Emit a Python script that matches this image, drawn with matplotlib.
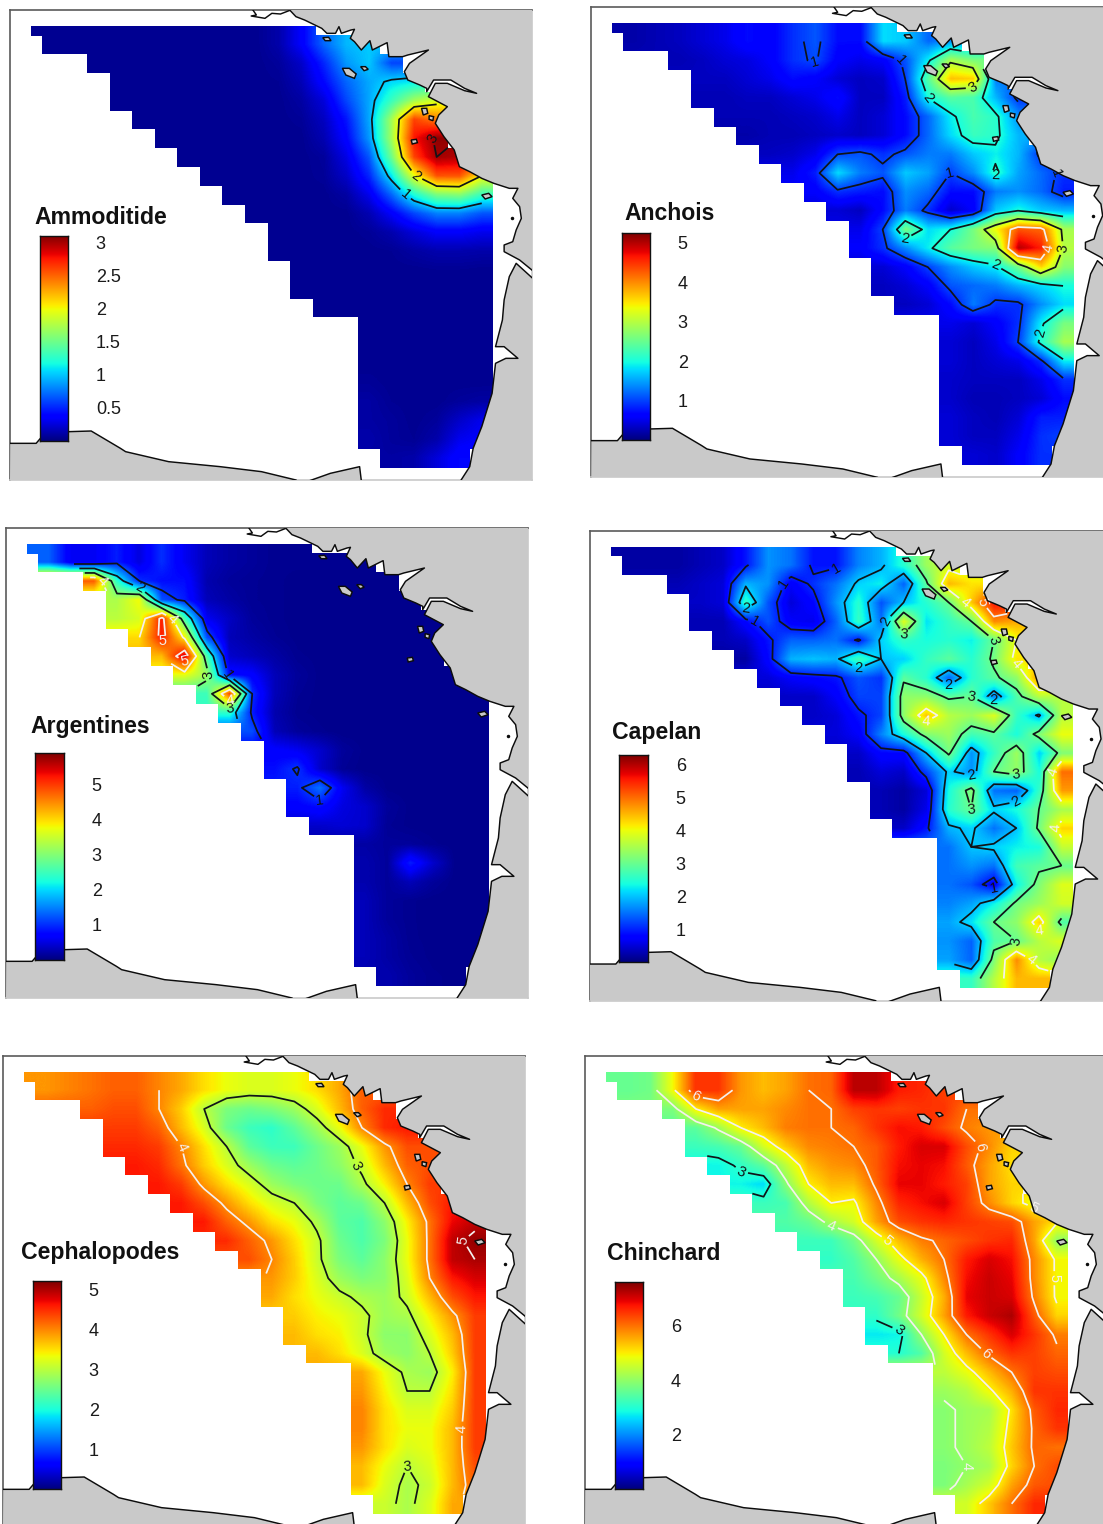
import numpy as np
import matplotlib
matplotlib.use("Agg")
import matplotlib.pyplot as plt
from matplotlib.path import Path
from matplotlib.patches import PathPatch, Polygon

plt.rcParams['font.family'] = ['Liberation Sans', 'DejaVu Sans']

# ---- data: one list per grid row, from the first wet column of that row ----
AMMODITIDE = [
 [.05]*10+[.12,.35,.7,.95,1.0],
 [.05]*8+[.08,.2,.5,.85,1.0,.6],
 [.05]*7+[.06,.15,.4,.7,.9,1.05,1.1],
 [.05]*7+[.05,.1,.25,.6,.9,1.3,1.7,1.9],
 [.05]*7+[.07,.18,.45,.9,1.7,2.6,2.4],
 [.05]*6+[.05,.14,.38,.85,1.7,2.75,3.05],
 [.05]*6+[.08,.28,.65,1.5,2.6,3.0,2.95],
 [.05]*5+[.07,.2,.5,1.1,1.95,2.55,2.55,2.0],
 [.05]*5+[.1,.3,.7,1.2,1.55,1.6,1.3],
 [.05]*5+[.14,.35,.6,.78,.78,.65],
 [.05]*4+[.07,.13,.25,.35,.35,.3],
 [.05]*5+[.06,.1,.13,.13,.12],
 [.05]*6+[.06,.06,.05],
 [.05]*9,
 [.05]*8,
 [.05]*6,
 [.05]*6,
 [.05]*6,
 [.07,.05,.05,.05,.05,.05],
 [.1,.06,.05,.05,.08,.1],
 [.1,.08,.05,.08,.2,.3],
 [.12,.08,.06,.12,.3,.35],
 [.1,.12,.25,.4],
]
ANCHOIS = [
 [.2,.25,.3,.4,.5,.7,.6,.9,1.1,.7,.7,1.8,1.7,1.2,1.4],
 [.25,.3,.4,.45,.6,.9,1.05,.6,.5,.6,1.1,1.9,2.9,2.6],
 [.3,.3,.4,.5,.7,.6,.4,.3,.35,1.0,2.4,3.7,3.6,1.3],
 [.25,.25,.3,.3,.4,.5,.7,.3,.3,.8,2.0,2.4,2.3,1.6,.9],
 [.25,.25,.25,.3,.35,.5,.3,.4,.7,1.2,1.9,2.3,2.1,1.4],
 [.2,.25,.25,.3,.35,.3,.4,.7,1.2,1.8,2.2,2.1,1.6],
 [.3,.35,.5,1.0,1.1,.9,1.1,1.3,1.3,1.7,1.9,1.6,.9],
 [.5,.8,1.8,1.3,1.1,1.7,1.5,1.0,1.4,2.1,1.5,1.2,.9],
 [.6,.9,.8,.7,1.4,1.2,.7,.7,1.3,1.4,1.2,.8],
 [.4,.3,.7,1.3,.9,.35,.6,1.7,2.0,1.7,1.6],
 [.5,1.0,2.6,1.8,2.0,2.6,3.4,4.3,4.2,2.9],
 [.6,.9,1.4,1.9,2.4,2.6,2.7,5.0,4.6,3.0],
 [.4,.6,1.0,1.4,1.7,1.9,2.6,3.6,2.7],
 [.3,.4,.6,1.1,1.2,1.3,1.6,1.8,2.0],
 [.3,.4,.7,1.3,.9,.9,1.4,1.8],
 [.5,.4,.6,.9,1.9,2.6],
 [.4,.3,.5,1.0,2.1,2.9],
 [.4,.3,.4,.5,.9,1.9],
 [.35,.3,.3,.3,.5,.9],
 [.35,.25,.25,.3,.4,.7],
 [.4,.3,.25,.4,.8,.8],
 [.4,.3,.3,.5,.9,1.0],
 [.4,.35,.6,.9],
]
ARGENTINES = [
 [1.3,.6,.6,.9,.5,1.0,.6,.3,.2,.15,.1,.1,.1,.1,.1],
 [4.8,2.4,1.0,.8,.8,.25,.15,.12,.1,.08,.08,.08,.08,.08],
 [3.3,3.8,1.2,.9,.3,.2,.12,.1,.08,.08,.07,.07,.07,.07],
 [3.4,3.6,5.2,2.6,.6,.35,.15,.1,.08,.07,.07,.07,.07,.07,.07],
 [4.0,5.2,3.9,1.2,.3,.2,.12,.08,.07,.07,.07,.07,.07,.07],
 [4.2,5.5,2.6,.4,.3,.2,.1,.08,.07,.07,.07,.07,.07],
 [3.7,3.2,.8,.7,.3,.15,.08,.07,.07,.07,.07,.07,.07],
 [2.5,4.9,1.0,.3,.12,.08,.07,.07,.07,.07,.07,.07,.07],
 [2.4,.9,.25,.1,.08,.07,.07,.07,.07,.07,.07,.07],
 [1.2,.3,.15,.1,.07,.07,.07,.07,.07,.07,.07],
 [.7,.6,.4,.15,.08,.07,.07,.07,.07,.07],
 [.8,1.05,.4,.12,.07,.07,.07,.07,.07,.07],
 [.9,1.4,.6,.2,.08,.07,.07,.07,.07],
 [.7,.8,.5,.4,.15,.08,.07,.07,.07],
 [.4,.45,.4,.12,.08,.07,.07,.07],
 [.2,.15,.15,.1,.07,.07],
 [.25,.15,.9,.4,.07,.07],
 [.25,.15,.3,.15,.07,.07],
 [.3,.15,.1,.07,.07,.07],
 [.3,.15,.1,.07,.07,.07],
 [.3,.2,.1,.08,.07,.07],
 [.3,.2,.12,.08,.07,.07],
 [.25,.15,.1,.08],
]
CAPELAN = [
 [.2,.2,.2,.3,.4,.9,1.7,1.5,.9,.9,1.6,1.9,2.5,3.4,3.8],
 [.3,.4,.5,1.9,1.7,.7,1.1,1.5,2.1,2.3,1.4,2.9,4.5,4.2],
 [.4,.5,2.6,1.3,.5,.8,1.7,2.5,1.3,2.0,2.5,3.0,4.4,5.6],
 [.3,.3,.8,1.3,.7,.6,1.4,2.6,1.5,3.9,2.2,2.6,3.0,4.8,4.6],
 [.3,.4,.9,1.4,1.4,1.5,.9,2.1,2.6,2.4,2.5,2.3,3.0,4.0],
 [.2,.8,1.9,2.0,1.9,2.7,2.0,2.1,2.6,2.9,2.5,3.1,4.2],
 [.5,.7,.8,.9,1.3,1.1,2.9,2.5,1.4,2.5,2.9,3.3,4.8],
 [.4,.4,.7,1.2,1.2,3.3,3.3,2.9,3.0,1.6,2.8,3.6,3.6],
 [.4,.5,.9,1.2,3.3,4.4,3.6,3.4,3.9,2.6,1.9,3.6],
 [.5,.7,1.6,2.4,3.2,3.4,2.7,2.9,2.4,3.2,4.0],
 [.4,.8,.8,2.0,3.1,1.7,2.6,3.4,2.1,3.2],
 [.3,.5,.4,1.2,2.1,1.7,3.0,3.3,2.4,5.0],
 [.3,.2,.5,2.4,3.2,1.5,1.4,2.6,4.7],
 [.3,.2,.6,2.5,3.0,2.1,2.4,3.0,3.5],
 [.4,.9,1.9,2.1,1.5,2.0,3.1,4.3],
 [1.5,2.0,2.1,2.3,2.4,3.7],
 [1.5,1.7,1.5,2.7,2.9,3.0],
 [1.5,1.3,.7,2.3,3.2,3.9],
 [1.6,1.8,2.3,3.1,3.4,3.8],
 [1.8,2.2,3.0,3.3,4.3,2.8],
 [1.7,1.4,2.8,3.0,3.6,3.9],
 [1.8,1.4,3.2,4.8,3.6,3.3],
 [2.6,3.6,4.5,4.5],
]
CEPHALOPODES = [
 [3.9,4.0,4.1,4.2,4.2,4.0,3.8,3.5,3.3,3.2,3.2,3.3,3.5,3.8,4.2],
 [4.2,4.3,4.3,4.0,3.6,3.0,2.6,2.5,2.6,2.8,3.2,3.7,4.2,4.5],
 [4.4,4.4,4.2,3.7,3.2,2.5,2.2,2.1,2.4,2.8,3.3,4.0,4.5,4.6],
 [4.5,4.5,4.4,4.0,3.5,3.0,2.4,2.2,2.2,2.5,2.8,3.3,3.9,4.3,4.3],
 [4.6,4.5,4.1,3.6,3.2,2.8,2.5,2.4,2.5,2.7,3.1,3.7,4.2,4.3],
 [4.6,4.4,3.9,3.5,3.2,2.8,2.6,2.5,2.5,2.9,3.4,4.0,4.4],
 [4.6,4.3,3.9,3.5,3.2,3.0,2.6,2.4,2.5,3.0,3.7,4.3,4.6],
 [4.6,4.2,3.9,3.5,3.3,2.9,2.4,2.3,2.7,3.4,4.1,4.7,4.9],
 [4.5,4.2,3.9,3.5,3.1,2.5,2.3,2.6,3.3,4.1,4.9,5.1],
 [4.3,4.0,3.6,3.1,2.6,2.4,2.7,3.3,4.1,4.9,5.0],
 [3.9,3.6,3.2,2.8,2.6,2.7,3.2,4.0,4.6,4.8],
 [3.8,3.5,3.3,3.1,2.9,2.8,3.1,3.7,4.3,4.6],
 [3.6,3.4,3.3,3.1,2.8,2.9,3.4,3.9,4.4],
 [3.7,3.5,3.4,3.1,2.7,2.7,3.2,3.7,4.4],
 [3.7,3.5,3.2,2.8,2.7,3.0,3.6,4.4],
 [3.8,3.3,2.9,2.8,3.4,4.4],
 [3.9,3.4,3.0,3.0,3.5,4.4],
 [4.0,3.5,3.2,3.2,3.6,4.4],
 [4.0,3.5,3.3,3.3,3.7,4.4],
 [3.9,3.5,3.2,3.3,3.7,4.4],
 [3.7,3.3,3.0,3.2,3.7,4.3],
 [3.7,3.2,2.9,3.1,3.7,4.2],
 [3.1,2.9,3.2,3.8],
]
CHINCHARD = [
 [3.6,3.7,4.9,6.5,6.5,5.7,5.4,5.6,6.0,6.1,7.2,7.2,6.7,6.6,6.4],
 [3.8,5.0,5.6,5.6,5.6,5.8,6.0,6.0,6.4,6.5,6.4,6.5,6.5,6.0],
 [3.5,4.1,5.0,5.4,5.9,6.0,6.0,6.1,6.5,6.8,6.7,6.3,5.9,5.7],
 [3.2,3.3,3.6,4.6,5.3,5.8,5.9,6.0,6.2,6.7,7.0,7.0,6.3,5.8,5.2],
 [2.8,3.1,3.5,4.4,5.4,5.7,5.8,6.2,6.8,6.9,6.8,6.2,5.6,5.1],
 [2.8,2.6,3.9,5.0,5.4,5.4,6.1,6.9,6.9,6.7,6.4,5.6,5.2],
 [3.2,3.3,4.3,5.0,4.9,5.8,6.6,6.8,7.0,6.4,5.8,5.2,4.8],
 [3.4,3.6,4.2,4.6,5.6,6.3,6.5,6.6,6.5,6.4,6.3,5.6,5.1],
 [3.2,3.2,3.7,4.6,5.4,5.9,6.1,6.3,6.5,6.6,5.6,4.0],
 [3.1,3.4,4.0,4.8,5.5,6.0,6.7,7.0,6.8,5.8,4.9],
 [3.3,3.7,4.2,4.8,5.8,6.8,7.1,6.9,5.8,4.9],
 [3.2,3.3,3.6,4.5,5.5,6.9,7.1,7.0,5.9,4.9],
 [3.1,3.7,4.6,5.6,6.7,7.1,7.3,6.2,5.2],
 [2.7,2.8,4.0,5.0,6.0,6.5,7.0,6.5,5.9],
 [3.0,3.4,4.6,5.4,6.1,6.5,6.4,6.1],
 [4.4,4.8,5.4,6.0,6.4,6.3],
 [4.1,4.3,4.9,5.5,6.5,6.5],
 [3.9,4.1,4.2,5.1,6.2,6.6],
 [3.9,4.1,4.3,5.2,6.1,6.5],
 [3.9,4.1,4.4,5.3,6.1,6.0],
 [3.8,4.0,4.2,5.2,6.0,6.3],
 [3.8,4.2,4.6,5.6,6.2,6.3],
 [4.6,5.3,6.0,6.6],
]
ROW_START = [0,2,3,3,4,5,6,7,8,9,10,10,11,11,12,14,14,14,14,14,14,14,15]

TITLES = ['Ammoditide','Anchois','Argentines','Capelan','Cephalopodes','Chinchard']
VMAX = [3.1,5.25,5.9,6.3,5.2,7.6]
TICKS = [[3,2.5,2,1.5,1,.5],[5,4,3,2,1],[5,4,3,2,1],[6,5,4,3,2,1],[5,4,3,2,1],[6,4,2]]
TICK_LABELS = [['3','2.5','2','1.5','1','0.5'],['5','4','3','2','1'],['5','4','3','2','1'],
               ['6','5','4','3','2','1'],['5','4','3','2','1'],['6','4','2']]
BLACK_LEVELS = [[1,2,3],[1,2,3],[1,2,3],[1,2,3],[3],[3]]
WHITE_LEVELS = [[],[4,5],[4,5],[4,5,6],[4,5],[4,5,6]]
FIELDS = [AMMODITIDE,ANCHOIS,ARGENTINES,CAPELAN,CEPHALOPODES,CHINCHARD]

# ---- layout in figure pixels ----
W, H = 1103, 1524
SHIFT = [(0,0),(581.3,-2.7),(-4,518),(579.7,520.7),(-7,1046),(575,1046)]
BAR = [(40,236,28,205),(622,233,28,207),(35,753,29,207),(619,755,29,207),(33,1281,28,208),(615,1282,28,207)]
TITLE_POS = [(34,218),(624,214),(30,727),(612,732),(21,1252),(607,1254)]

# ---- coastline (crop units) ----
CX, CY = 2.906, 3.0
COAST_N = [(840,28),(860,50),(885,60),(905,70),(935,85),(950,100),(975,100),(985,80),(992,100),(1020,90),(1030,88),
 (1018,115),(1030,125),(1050,150),(1075,122),(1082,150),(1125,128),(1130,170),(1170,170),(1185,165),(1245,150),
 (1190,190),(1175,215),(1185,240),(1220,255),(1240,265),(1240,275),(1260,240),(1310,240),(1350,265),(1385,280),
 (1350,272),(1300,250),(1265,250),(1245,290),(1300,320),(1275,345),(1265,370),(1290,410),(1320,450),(1335,500),
 (1365,515),(1400,535),(1435,550),(1480,565),(1505,565),(1490,595),(1510,620),(1515,655),(1500,690),(1490,725),
 (1465,735),(1465,755),(1510,780),(1548,812)]
COAST_S = [(1548,835),(1500,790),(1480,830),(1465,900),(1460,960),(1440,1040),(1465,1040),(1505,1075),(1470,1075),
 (1440,1090),(1430,1180),(1400,1280),(1375,1345),(1365,1400),(1340,1440)]
SOUTH = [(30,1330),(105,1330),(130,1300),(200,1295),(265,1293),(350,1345),(365,1355),(490,1385),(640,1400),
 (760,1415),(860,1440)]
SOUTH2 = [(900,1442),(960,1420),(1045,1400),(1050,1442)]
CAPE = [(735,30),(745,45),(730,48),(770,55),(790,40),(815,42),(840,32)]
ISLANDS = [[(995,205),(1015,205),(1035,222),(1030,235),(1005,225)],
 [(938,113),(955,112),(962,122),(945,122)],
 [(1048,200),(1062,200),(1070,208),(1058,212)],
 [(1225,325),(1240,325),(1243,340),(1230,345)],
 [(1247,347),(1260,350),(1258,362),(1247,358)],
 [(1195,420),(1210,418),(1213,428),(1198,432)],
 [(1400,585),(1420,580),(1430,590),(1410,597)]]
LAND = '#c9c9c9'

def m(pts):
    return np.array(pts, float) / [CX, CY]

# grid geometry in panel units
DX, DY = 22.55, 18.8
cx = 53.3 + DX*np.arange(20)
cy = 44.2 + DY*np.arange(23)
FX0, FY0, FX1, FY1 = 10, 10, 532, 480

def stairs():
    verts, codes = [], []
    def rect(x0,y0,x1,y1):
        verts.extend([(x0,y0),(x1,y0),(x1,y1),(x0,y1),(x0,y0)])
        codes.extend([Path.MOVETO,Path.LINETO,Path.LINETO,Path.LINETO,Path.CLOSEPOLY])
    rect(31,26,316,35.5)
    rect(42,35,cx[0]+DX*14.5,54.2)
    for r in range(1,23):
        s = ROW_START[r]
        e = s + len(AMMODITIDE[r])
        rect(cx[0]-DX/2+DX*s, 54+DY*(r-1)-.1, cx[0]-DX/2+DX*e, 54+DY*r+.1)
    return Path(verts, codes)

fig = plt.figure(figsize=(W/100, H/100), dpi=100)
for i, rows in enumerate(FIELDS):
    sx, sy = SHIFT[i]
    ax = fig.add_axes([(FX0+sx)/W, 1-(FY1+sy)/H, (FX1-FX0)/W, (FY1-FY0)/H])
    ax.set_xlim(FX0, FX1); ax.set_ylim(FY1, FY0)
    ax.set_xticks([]); ax.set_yticks([])
    for k, sp in ax.spines.items():
        sp.set_color('#5a5a5a' if k in ('left','top') else '#c9c9c9')
        sp.set_linewidth(1.2)
    Z = np.full((23,20), np.nan)
    for r, vals in enumerate(rows):
        Z[r, ROW_START[r]:ROW_START[r]+len(vals)] = vals
    F = Z.copy()
    for r in range(23):
        good = np.where(~np.isnan(F[r]))[0]
        F[r,:good[0]] = F[r,good[0]]
        F[r,good[-1]+1:] = F[r,good[-1]]
    F = np.pad(F, 1, mode='edge')
    im = ax.imshow(F, cmap='jet', vmin=0, vmax=VMAX[i], interpolation='bilinear', aspect='auto',
                   extent=(cx[0]-1.5*DX, cx[-1]+1.5*DX, cy[-1]+1.5*DY, cy[0]-1.5*DY), zorder=1)
    patch = PathPatch(stairs(), transform=ax.transData, fc='none', ec='none')
    im.set_clip_path(patch)
    ax.set_xlim(FX0, FX1); ax.set_ylim(FY1, FY0)
    for lev, col in ((BLACK_LEVELS[i],'#101418'),(WHITE_LEVELS[i],'#f4f0ee')):
        if lev:
            cs = ax.contour(cx, cy, Z, levels=lev, colors=col, linewidths=1.25, zorder=2)
            ax.clabel(cs, fmt='%d', fontsize=10.5, inline=True, inline_spacing=3)
    ax.add_patch(Polygon(np.vstack([m(COAST_N), [(FX1,FY0),(m(COAST_N)[0][0],FY0)]]), closed=True, fc=LAND, ec='none', zorder=3))
    ax.add_patch(Polygon(np.vstack([m(COAST_S), [(FX1,FY1)]]), closed=True, fc=LAND, ec='none', zorder=3))
    ax.add_patch(Polygon(np.vstack([m(SOUTH), [(FX0,FY1)]]), closed=True, fc=LAND, ec='none', zorder=3))
    ax.add_patch(Polygon(m(SOUTH2), closed=True, fc=LAND, ec='none', zorder=3))
    for line in (COAST_N, COAST_S, SOUTH, SOUTH2, CAPE):
        p = m(line)
        ax.plot(p[:,0], p[:,1], color='#0c0c0c', lw=1.05, zorder=4, solid_joinstyle='round')
    for isl in ISLANDS:
        ax.add_patch(Polygon(m(isl), closed=True, fc=LAND, ec='#0c0c0c', lw=1.05, zorder=4))
    ax.plot(1487/CX, 655/CY, '.', color='#0c0c0c', ms=3, zorder=4)

    bx, by, bw, bh = BAR[i]
    bar = fig.add_axes([bx/W, 1-(by+bh)/H, bw/W, bh/H], zorder=5)
    bar.imshow(np.linspace(0, VMAX[i], 256)[:,None], cmap='jet', vmin=0, vmax=VMAX[i], aspect='auto',
               origin='lower', extent=(0,1,0,VMAX[i]))
    bar.set_xticks([])
    bar.yaxis.tick_right()
    bar.set_yticks(TICKS[i], TICK_LABELS[i], fontsize=13, color='#1a1a1a')
    bar.tick_params(axis='y', length=0, pad=20)
    for sp in bar.spines.values():
        sp.set_color('#111111'); sp.set_linewidth(1.0)
    tx, ty = TITLE_POS[i]
    fig.text(tx/W, 1-ty/H, TITLES[i], fontsize=16.6, fontweight='bold', color='#111111', ha='left', va='center')

fig.savefig('out.png', dpi=100)
